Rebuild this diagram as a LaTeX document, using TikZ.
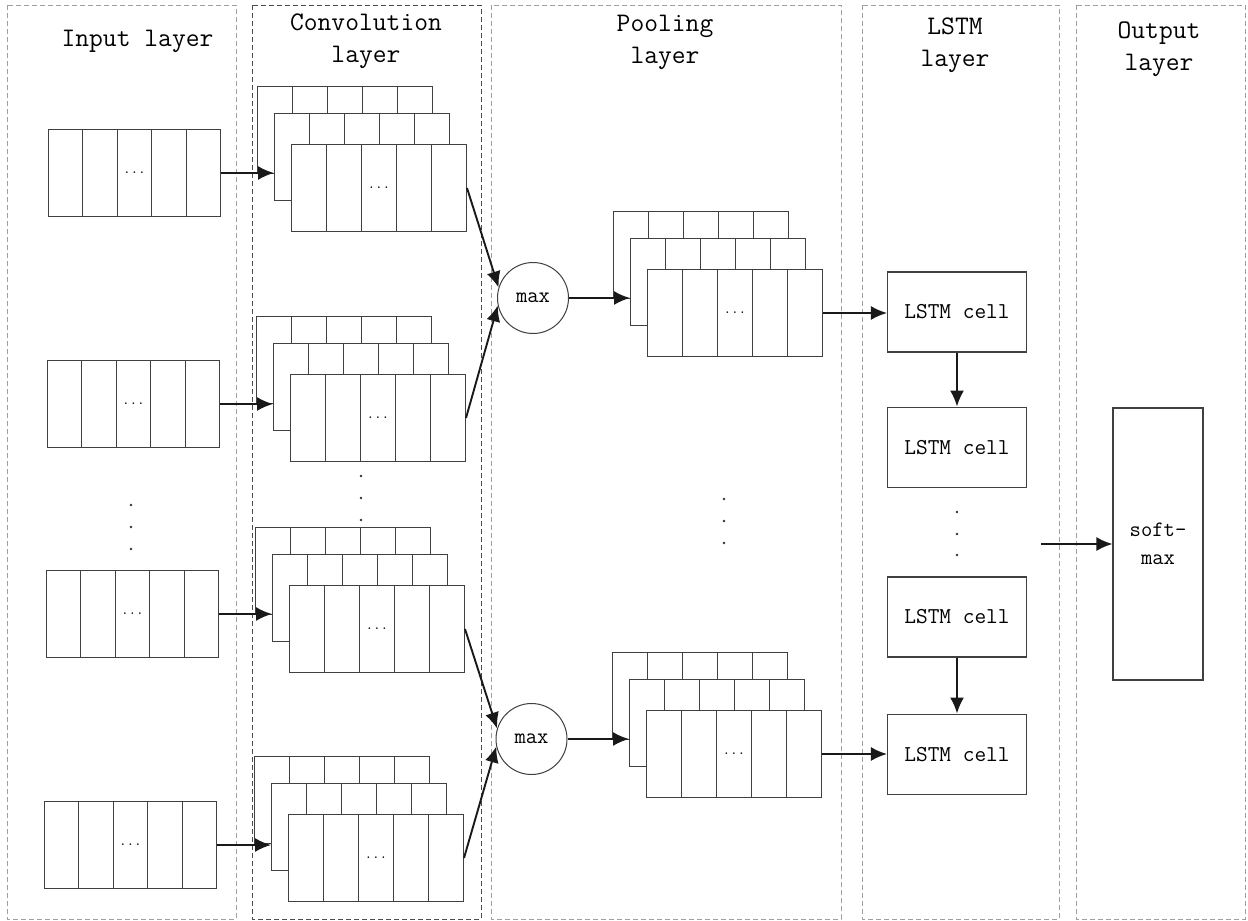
\documentclass[tikz,border=0pt]{standalone}
\usepackage{tikz}
\usetikzlibrary{arrows.meta,positioning,calc}

\begin{document}
\begin{tikzpicture}[
  x=1pt, y=-1pt,
  panel/.style={draw=gray!75, dash pattern=on 5pt off 3pt, line width=0.9pt},
  darkpanel/.style={panel, draw=black!70},
  title/.style={align=center, font=\ttfamily\fontsize{26.8}{32}\selectfont},
  layer/.style={rectangle, draw=black!75, fill=white, line width=1pt,
    inner sep=0pt, anchor=north west, minimum width=175pt, minimum height=87pt,
    font=\fontsize{18}{18}\selectfont,
    path picture={\foreach \i in {1,...,4}
      \draw[black!75, line width=1pt]
        ($(path picture bounding box.north west)!\i/5!(path picture bounding box.north east)$) --
        ($(path picture bounding box.south west)!\i/5!(path picture bounding box.south east)$);}},
  maxpool/.style={circle, draw=black!75, fill=white, line width=1pt,
    minimum size=71pt, inner sep=0pt, font=\ttfamily\fontsize{22}{26}\selectfont},
  cell/.style={rectangle, draw=black!75, fill=white, line width=1.1pt,
    minimum width=139pt, minimum height=80pt,
    font=\ttfamily\fontsize{22.7}{27}\selectfont},
  smbox/.style={rectangle, draw=black!75, fill=white, line width=1.1pt,
    minimum width=90pt, minimum height=272pt, align=center,
    font=\ttfamily\fontsize{22}{28}\selectfont},
  vdot/.style={circle, fill=black!80, inner sep=0pt, minimum size=2.6pt},
  arrow/.style={-{Latex[length=16pt,width=14pt]}, line width=1.9pt, draw=black!90}
]
\useasboundingbox (0,0) rectangle (1248,921);

% layer frames
\draw[panel] (7,5) rectangle (236,919);
\draw[darkpanel] (252,5) rectangle (481,919);
\draw[panel] (491,5) rectangle (841,919);
\draw[panel] (862,5) rectangle (1059,919);
\draw[panel] (1076,5) rectangle (1245,919);

\node[title] (tin) at (137.5,41) {Input layer};
\node[title] (tconv) at (366,41) {Convolution\\layer};
\node[title] (tpool) at (665,42) {Pooling\\layer};
\node[title] (tlstm) at (955,45) {LSTM\\layer};
\node[title] (tout) at (1159,49) {Output\\layer};

% input vectors
\node[layer, minimum width=172pt] (in1) at (48,129) {$\ldots$};
\node[layer, minimum width=172pt] (in2) at (47,360) {$\ldots$};
\node[layer, minimum width=172pt] (in3) at (46,570) {$\ldots$};
\node[layer, minimum width=172pt] (in4) at (44,801) {$\ldots$};

% feature map stacks
\foreach \n/\x/\y in {c1/257/86, c2/256/316, c3/255/527, c4/254/756, p1/613/211, p2/612/652} {
  \node[layer] (\n-b) at (\x,\y) {};
  \node[layer] (\n-m) at (\x+17,\y+27) {};
  \node[layer] (\n-f) at (\x+34,\y+58) {$\ldots$};
}

\node[maxpool] (m1) at (533,298) {max};
\node[maxpool] (m2) at (531.5,739) {max};

\node[cell] (L1) at (957,312) {LSTM cell};
\node[cell, below=54pt of L1] (L2) {LSTM cell};
\node[cell] (L3) at (957,617) {LSTM cell};
\node[cell, below=56pt of L3] (L4) {LSTM cell};

\node[smbox] (sm) at (1158,544) {soft-\\max};
\coordinate (lstmout) at (1041,544);

\foreach \x/\y [count=\k] in {131/505, 131/527, 131/549, 361/476, 361/498, 361/520,
    724/499, 724/521, 724/543, 957/512, 957/534, 957/555}
  \node[vdot] (dot\k) at (\x,\y) {};

\draw[arrow] (in1.east) -- (in1.east -| c1-m.west);
\draw[arrow] (in2.east) -- (in2.east -| c2-m.west);
\draw[arrow] (in3.east) -- (in3.east -| c3-m.west);
\draw[arrow] (in4.east) -- (in4.east -| c4-m.west);

\draw[arrow] (c1-f.east) -- (m1.163);
\draw[arrow] (c2-f.east) -- (m1.192);
\draw[arrow] (c3-f.east) -- (m2.163);
\draw[arrow] (c4-f.east) -- (m2.192);

\draw[arrow] (m1.east) -- (m1.east -| p1-m.west);
\draw[arrow] (m2.east) -- (m2.east -| p2-m.west);

\draw[arrow] (p1-f.east) -- (p1-f.east -| L1.west);
\draw[arrow] (p2-f.east) -- (p2-f.east -| L4.west);
\draw[arrow] (L1) -- (L2);
\draw[arrow] (L3) -- (L4);
\draw[arrow] (lstmout) -- (sm.west);
\end{tikzpicture}
\end{document}
